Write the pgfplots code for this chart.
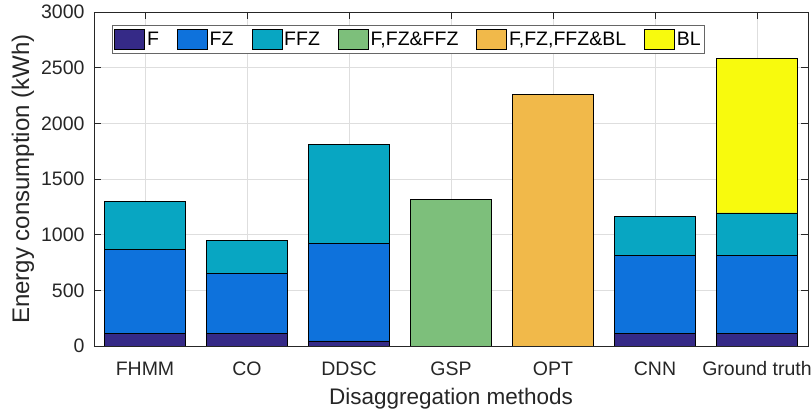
\documentclass[border=0pt]{standalone}
\usepackage{pgfplots}
\pgfplotsset{compat=1.18}
\usepackage{fontspec}
\setmainfont{Liberation Sans}
\definecolor{cF}{HTML}{352A87}
\definecolor{cFZ}{HTML}{0E72DC}
\definecolor{cFFZ}{HTML}{08A6C2}
\definecolor{cG}{HTML}{7DBF7B}
\definecolor{cO}{HTML}{F1B94A}
\definecolor{cBL}{HTML}{F8FA0D}
\begin{document}
\begin{tikzpicture}
\begin{axis}[
  scale only axis, width=714pt, height=334pt,
  ybar stacked, bar width=81pt,
  xmin=-0.5, xmax=6.5, ymin=0, ymax=3000,
  xtick={0,1,2,3,4,5,6},
  xticklabels={FHMM,CO,DDSC,GSP,OPT,CNN,Ground truth},
  ytick={0,500,1000,1500,2000,2500,3000},
  grid=major, grid style={black!13, line width=0.8pt},
  axis line style={black!85, line width=0.8pt},
  tick style={black!85, line width=0.8pt},
  major tick length=7pt,
  tick align=inside,
  /pgf/number format/assume math mode=true,
  /pgf/number format/1000 sep={},
  tick label style={font=\fontsize{19.5}{22}\selectfont, black!85},
  xticklabel style={anchor=base, yshift=-30pt},
  yticklabel style={anchor=east, xshift=-6pt},
  xlabel={Disaggregation methods},
  ylabel={Energy consumption (kWh)},
  xlabel style={at={(axis description cs:0.5,-0.1737)}, anchor=base, font=\fontsize{22.5}{26}\selectfont, black!85},
  ylabel style={at={(axis description cs:-0.0994,0.5)}, anchor=center, font=\fontsize{24}{28}\selectfont, black!85},
  legend columns=6,
  legend style={at={(0.0252,0.9611)}, anchor=north west, draw=black!60, line width=0.8pt,
    font=\fontsize{19.5}{22}\selectfont, inner xsep=2pt, inner ysep=3.5pt,
    /tikz/every even column/.append style={column sep=16pt}},
  legend image code/.code={\draw[#1, draw=black, line width=0.7pt] (0pt,-10pt) rectangle (30pt,10pt);},
  every axis plot/.append style={draw=black, line width=0.7pt},
]
\addplot[fill=cF] coordinates {(0,111) (1,115) (2,45) (3,0) (4,0) (5,111) (6,111)};
\addplot[fill=cFZ] coordinates {(0,755) (1,535) (2,880) (3,0) (4,0) (5,704) (6,704)};
\addplot[fill=cFFZ] coordinates {(0,434) (1,300) (2,887) (3,0) (4,0) (5,350) (6,380)};
\addplot[fill=cG] coordinates {(0,0) (1,0) (2,0) (3,1320) (4,0) (5,0) (6,0)};
\addplot[fill=cO] coordinates {(0,0) (1,0) (2,0) (3,0) (4,2260) (5,0) (6,0)};
\addplot[fill=cBL] coordinates {(0,0) (1,0) (2,0) (3,0) (4,0) (5,0) (6,1385)};
\legend{F,FZ,FFZ,{F,FZ\&FFZ},{F,FZ,FFZ\&BL},BL}
\end{axis}
\pgfresetboundingbox
\path[use as bounding box] (current axis.south west) ++(-94pt,-69pt) rectangle ++(812pt,415pt);
\end{tikzpicture}
\end{document}
